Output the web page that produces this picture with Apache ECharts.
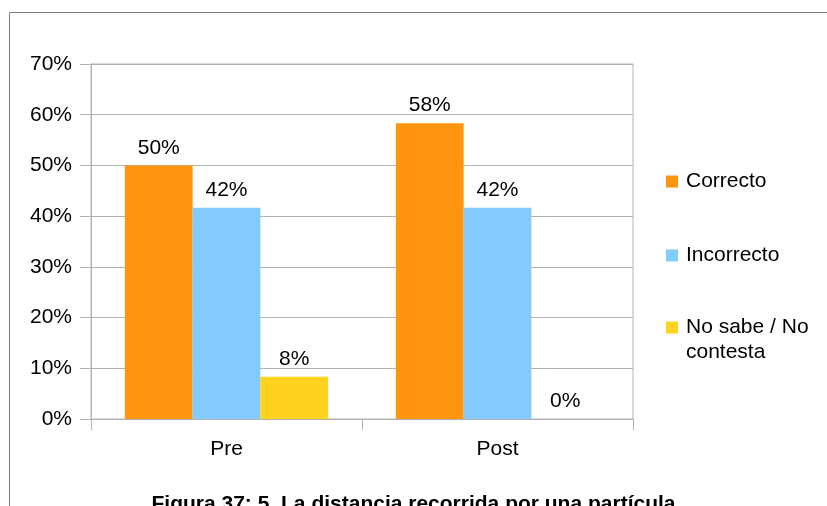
<!DOCTYPE html>
<html>
<head>
<meta charset="utf-8">
<script src="https://cdn.jsdelivr.net/npm/echarts@6/dist/echarts.min.js"></script>
<style>
  html, body { margin: 0; padding: 0; background: #fff; }
  #chart { width: 827px; height: 506px; }
</style>
</head>
<body>
<div id="chart"></div>
<script>
const categories = ['Pre', 'Post']
const seriesNames = ['Correcto', 'Incorrecto', 'No sabe / No contesta']
const correctoValues = [50, 58.33]
const incorrectoValues = [41.67, 41.67]
const noSabeValues = [8.33, 0]
const colors = ['#ff950e', '#83caff', '#ffd320']
const titleText = 'Figura 37: 5. La distancia recorrida por una partícula'

const font = 'Liberation Sans, Arial, sans-serif'
const chart = echarts.init(document.getElementById('chart'))

const makeSeries = (name, data, color) => ({
  name: name,
  type: 'bar',
  data: data,
  barGap: 0,
  barCategoryGap: '25%',
  itemStyle: { color: color },
  label: {
    show: true,
    position: 'top',
    distance: 7,
    color: '#000',
    fontFamily: font,
    fontSize: 21,
    formatter: p => Math.round(p.value) + '%'
  }
})

// square icon, for the two-line entry the box is taller so the square sits on the first line
const makeLegend = (name, top, iconH) => ({
  orient: 'vertical',
  left: 666,
  top: top,
  padding: 0,
  itemWidth: 12,
  itemHeight: iconH || 12,
  icon: iconH ? 'path://M0,0L12,0L12,12L0,12Z M0,' + iconH + 'L0,' + iconH : 'rect',
  data: [name],
  formatter: n => n === 'No sabe / No contesta' ? 'No sabe / No\ncontesta' : n,
  textStyle: {
    color: '#000',
    fontFamily: font,
    fontSize: 21,
    lineHeight: 25,
    padding: [0, 0, 0, 3]
  }
})

const option = {
  animation: false,
  color: colors,
  title: {
    text: titleText,
    left: 'center',
    top: 489,
    textStyle: { color: '#000', fontFamily: font, fontSize: 21, fontWeight: 'bold' }
  },
  graphic: [{
    type: 'rect',
    shape: { x: 9.5, y: 12.5, width: 1000, height: 1000 },
    style: { fill: 'none', stroke: '#7f7f7f', lineWidth: 1 },
    silent: true
  }],
  legend: [
    makeLegend(seriesNames[0], 169),
    makeLegend(seriesNames[1], 243),
    makeLegend(seriesNames[2], 315, 37)
  ],
  grid: {
    left: 91,
    top: 64,
    right: 194,
    bottom: 87,
    show: true,
    borderColor: '#b3b3b3',
    borderWidth: 1
  },
  xAxis: {
    type: 'category',
    data: categories,
    axisLine: { lineStyle: { color: '#b3b3b3' } },
    axisTick: { show: true, length: 11, lineStyle: { color: '#b3b3b3' } },
    axisLabel: { color: '#000', fontFamily: font, fontSize: 21, margin: 20 }
  },
  yAxis: {
    type: 'value',
    min: 0,
    max: 70,
    interval: 10,
    axisLine: { show: true, lineStyle: { color: '#b3b3b3' } },
    axisTick: { show: true, length: 11, lineStyle: { color: '#b3b3b3' } },
    splitLine: { lineStyle: { color: '#b3b3b3' } },
    axisLabel: { color: '#000', fontFamily: font, fontSize: 21, margin: 19, formatter: '{value}%' }
  },
  series: [
    makeSeries(seriesNames[0], correctoValues, colors[0]),
    makeSeries(seriesNames[1], incorrectoValues, colors[1]),
    makeSeries(seriesNames[2], noSabeValues, colors[2])
  ]
}

chart.setOption(option)
</script>
</body>
</html>
